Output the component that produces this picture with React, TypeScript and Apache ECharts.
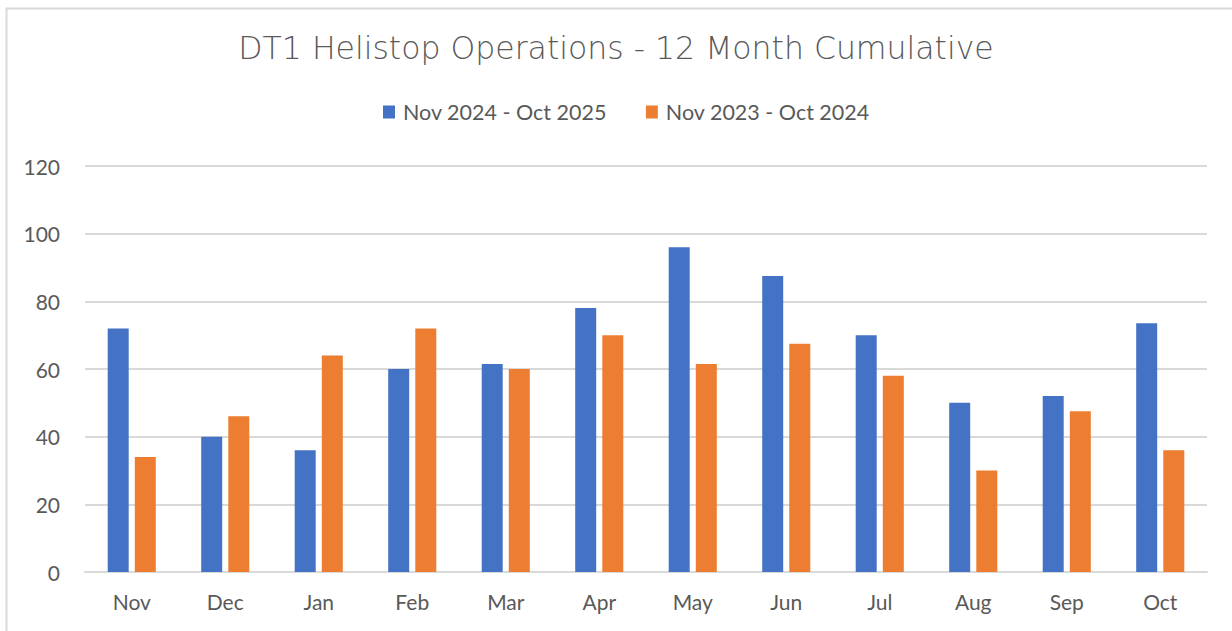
import React, { useEffect, useRef } from "react";
import * as echarts from "echarts";

const categories = ["Nov", "Dec", "Jan", "Feb", "Mar", "Apr", "May", "Jun", "Jul", "Aug", "Sep", "Oct"];
const current = [72, 40, 36, 60, 61.5, 78, 96, 87.5, 70, 50, 52, 73.5];
const previous = [34, 46, 64, 72, 60, 70, 61.5, 67.5, 58, 30, 47.5, 36];
const seriesNames = ["Nov 2024 - Oct 2025", "Nov 2023 - Oct 2024"];
const yTicks = { min: 0, max: 120, interval: 20 };

export default function App() {
  const ref = useRef<HTMLDivElement>(null);
  useEffect(() => {
    if (!ref.current) return;
    const chart = echarts.init(ref.current, null, { renderer: "svg" });
    const labelFont = "Lato, 'Open Sans', sans-serif";
    chart.setOption({
      animation: false,
      backgroundColor: "#ffffff",
      title: {
        text: "DT1 Helistop Operations - 12 Month Cumulative",
        left: "center",
        top: 27,
        textStyle: {
          fontFamily: "'DejaVu Sans', sans-serif",
          fontWeight: 200,
          fontSize: 31.5,
          color: "#595959",
        },
      },
      legend: {
        top: 96,
        left: 378,
        itemWidth: 12,
        itemHeight: 13,
        itemGap: 39,
        icon: "rect",
        textStyle: { fontFamily: labelFont, fontSize: 21.5, color: "#595959", padding: [0, 0, 0, 3] },
        data: seriesNames,
      },
      grid: { left: 85, right: 25, top: 166, bottom: 59 },
      xAxis: {
        type: "category",
        data: categories,
        axisLine: { lineStyle: { color: "#d9d9d9", width: 2 } },
        axisTick: { show: false },
        axisLabel: { fontFamily: labelFont, fontSize: 21, color: "#595959", margin: 19 },
      },
      yAxis: {
        type: "value",
        min: yTicks.min,
        max: yTicks.max,
        interval: yTicks.interval,
        axisLine: { show: false },
        axisTick: { show: false },
        splitLine: { lineStyle: { color: "#d9d9d9", width: 2 } },
        axisLabel: { fontFamily: labelFont, fontSize: 21, color: "#595959", margin: 25 },
      },
      graphic: [
        {
          type: "rect",
          shape: { x: 6.5, y: 8.5, width: 1300, height: 700 },
          style: { fill: "none", stroke: "#d9d9d9", lineWidth: 2 },
          z: -1,
        },
      ],
      series: [
        {
          name: seriesNames[0],
          type: "bar",
          data: current,
          barWidth: 21,
          barGap: "29%",
          itemStyle: { color: "#4472C4" },
        },
        {
          name: seriesNames[1],
          type: "bar",
          data: previous,
          barWidth: 21,
          itemStyle: { color: "#ED7D31" },
        },
      ],
    });
    return () => chart.dispose();
  }, []);
  return (
    <div
      ref={ref}
      style={{ position: "fixed", left: 0, top: 0, width: 1232, height: 631 }}
    />
  );
}
